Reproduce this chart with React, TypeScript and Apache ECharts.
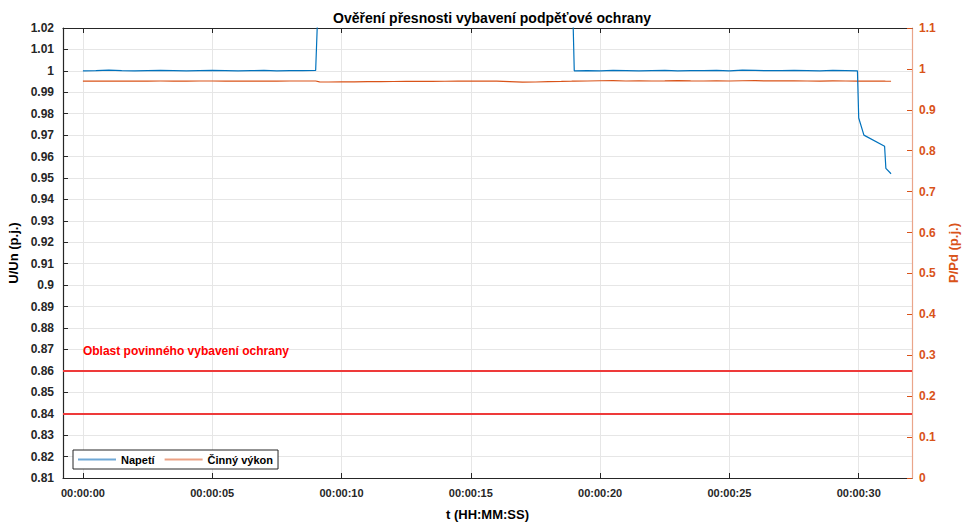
import React, { useEffect, useRef } from "react";
import * as echarts from "echarts";

const titleText = "Ověření přesnosti vybavení podpěťové ochrany";
const xTicks = [0, 5, 10, 15, 20, 25, 30];
const leftLimits = [0.81, 1.02];
const rightLimits = [0, 1.1];
const thresholds = [0.86, 0.84];
const zoneLabel = "Oblast povinného vybavení ochrany";
const zoneLabelPos = [0, 0.8695];

const times = [
  0, 0.5, 1, 1.5, 2, 2.5, 3, 3.5, 4, 4.5, 5, 5.5, 6, 6.5, 7, 7.5, 8, 8.5, 9.0,
  9.15, 9.5, 10, 10.5, 11, 11.5, 12, 12.5, 13, 13.5, 14, 14.5, 15, 15.5, 16, 16.5, 17, 17.5, 18, 18.5, 18.9,
  19.0, 19.5, 20, 20.5, 21, 21.5, 22, 22.5, 23, 23.5, 24, 24.5, 25, 25.5, 26, 26.5, 27, 27.5, 28, 28.5, 29, 29.5, 29.95,
  30.0, 30.2, 31.0, 31.05, 31.25,
];

const napeti = [
  1.0, 1.0001, 1.0003, 1.0001, 1.0, 1.0001, 1.0002, 1.0001, 1.0, 1.0001, 1.0002, 1.0001, 1.0, 1.0001, 1.0002, 1.0, 1.0001, 1.0001, 1.0002,
  1.05, 1.05, 1.05, 1.05, 1.05, 1.05, 1.05, 1.05, 1.05, 1.05, 1.05, 1.05, 1.05, 1.05, 1.05, 1.05, 1.05, 1.05, 1.05, 1.05, 1.05,
  1.0, 1.0001, 1.0, 1.0002, 1.0001, 1.0, 1.0001, 1.0002, 1.0, 1.0001, 1.0001, 1.0002, 1.0, 1.0003, 1.0002, 1.0001, 1.0001, 1.0002, 1.0001, 1.0, 1.0002, 1.0001, 1.0,
  0.978, 0.97, 0.9648, 0.9545, 0.952,
];

const cinnyVykon = [
  0.97, 0.9702, 0.9705, 0.9703, 0.9702, 0.9703, 0.9704, 0.9703, 0.9703, 0.9704, 0.9705, 0.9703, 0.9704, 0.9703, 0.9705, 0.9703, 0.9704, 0.9705, 0.9705,
  0.9685, 0.968, 0.9682, 0.9685, 0.9688, 0.969, 0.9692, 0.9693, 0.9695, 0.9697, 0.9698, 0.97, 0.9702, 0.9705, 0.9703, 0.969, 0.9675, 0.968, 0.969, 0.9695, 0.97,
  0.9703, 0.9705, 0.971, 0.9715, 0.9705, 0.9708, 0.9704, 0.9706, 0.9712, 0.9706, 0.9704, 0.9707, 0.9705, 0.971, 0.9712, 0.9708, 0.9706, 0.9709, 0.9705, 0.9703, 0.9706, 0.9704, 0.9703,
  0.97, 0.97, 0.97, 0.9698, 0.9698,
];

const FONT = "'Liberation Sans', Arial, Helvetica, sans-serif";
const BLUE = "#0072BD";
const ORANGE = "#D95319";
const AXIS = "#262626";
const GRID = "#e6e6e6";

const fmtTime = (v: number) => {
  const s = Math.round(v);
  const pad = (n: number) => (n < 10 ? "0" + n : "" + n);
  return "00:00:" + pad(s);
};

export default function App() {
  const ref = useRef<HTMLDivElement>(null);
  useEffect(() => {
    if (!ref.current) return;
    const chart = echarts.init(ref.current, undefined, { renderer: "svg" });
    const xMin = -0.77;
    const xMax = 32.06;
    chart.setOption({
      animation: false,
      backgroundColor: "#ffffff",
      textStyle: { fontFamily: FONT },
      title: {
        text: titleText,
        left: 487,
        textAlign: "center",
        top: 6,
        textStyle: { fontSize: 14, fontWeight: "bold", color: "#000", fontFamily: FONT },
      },
      legend: {
        left: 73,
        top: 450,
        orient: "horizontal",
        backgroundColor: "#fff",
        borderColor: AXIS,
        borderWidth: 1,
        borderRadius: 0,
        padding: [4, 5, 4, 5],
        itemGap: 10,
        itemWidth: 38,
        itemHeight: 2,
        icon: "rect",
        textStyle: { fontSize: 11, fontWeight: "bold", color: "#000", fontFamily: FONT },
        data: [
          { name: "Napetí", icon: "rect", itemStyle: { color: "#6fa8d6" } },
          { name: "Činný výkon", icon: "rect", itemStyle: { color: "#eba184" } },
        ],
      },
      grid: { left: 63, right: 51, top: 28, bottom: 44, containLabel: false, outerBoundsMode: "none" },
      xAxis: [
        {
          type: "value",
          min: xMin,
          max: xMax,
          position: "bottom",
          name: "t (HH:MM:SS)",
          nameLocation: "middle",
          nameGap: 30,
          nameTextStyle: { fontSize: 13, fontWeight: "bold", color: "#000", fontFamily: FONT },
          axisLine: { show: true, onZero: false, lineStyle: { color: AXIS, width: 1.2 } },
          axisTick: { show: true, inside: true, length: 5, customValues: xTicks, lineStyle: { color: AXIS } },
          axisLabel: {
            customValues: xTicks,
            formatter: (v: number) => fmtTime(v),
            fontSize: 11,
            fontWeight: "bold",
            color: "#262626",
            margin: 9,
            fontFamily: FONT,
          },
          splitLine: { show: true, lineStyle: { color: GRID, width: 1 } },
        },
        {
          type: "value",
          min: xMin,
          max: xMax,
          position: "top",
          axisLine: { show: true, onZero: false, lineStyle: { color: AXIS, width: 1.2 } },
          axisTick: { show: true, inside: true, length: 5, customValues: xTicks, lineStyle: { color: AXIS } },
          axisLabel: { show: false },
          splitLine: { show: false },
        },
      ],
      yAxis: [
        {
          type: "value",
          min: leftLimits[0],
          max: leftLimits[1],
          interval: 0.01,
          position: "left",
          name: "U/Un (p.j.)",
          nameLocation: "middle",
          nameRotate: 90,
          nameGap: 40,
          nameTextStyle: { fontSize: 13, fontWeight: "bold", color: "#000", fontFamily: FONT },
          axisLine: { show: true, onZero: false, lineStyle: { color: AXIS, width: 1.2 } },
          axisTick: { show: true, inside: true, length: 5, lineStyle: { color: AXIS } },
          axisLabel: {
            formatter: (v: number) => String(Math.round(v * 100) / 100),
            fontSize: 12,
            fontWeight: "bold",
            color: "#262626",
            margin: 9,
            fontFamily: FONT,
          },
          splitLine: { show: true, lineStyle: { color: GRID, width: 1 } },
        },
        {
          type: "value",
          min: rightLimits[0],
          max: rightLimits[1],
          interval: 0.1,
          position: "right",
          name: "P/Pd (p.j.)",
          nameLocation: "middle",
          nameRotate: 90,
          nameGap: 33,
          nameTextStyle: { fontSize: 13, fontWeight: "bold", color: ORANGE, fontFamily: FONT },
          axisLine: { show: true, onZero: false, lineStyle: { color: "#eaa58a", width: 1.2 } },
          axisTick: { show: true, inside: true, length: 5, lineStyle: { color: ORANGE } },
          axisLabel: {
            formatter: (v: number) => String(Math.round(v * 10) / 10),
            fontSize: 12,
            fontWeight: "bold",
            color: ORANGE,
            margin: 7,
            fontFamily: FONT,
          },
          splitLine: { show: false },
        },
      ],
      series: [
        {
          name: "Napetí",
          type: "line",
          xAxisIndex: 0,
          yAxisIndex: 0,
          data: times.map((t, i) => [t, napeti[i]]),
          symbol: "none",
          showSymbol: false,
          clip: true,
          lineStyle: { color: BLUE, width: 1.2 },
          itemStyle: { color: BLUE },
          z: 3,
        },
        {
          name: "Činný výkon",
          type: "line",
          xAxisIndex: 0,
          yAxisIndex: 1,
          data: times.map((t, i) => [t, cinnyVykon[i]]),
          symbol: "none",
          showSymbol: false,
          clip: true,
          lineStyle: { color: ORANGE, width: 1.2 },
          itemStyle: { color: ORANGE },
          z: 2,
        },
        {
          name: "zone",
          type: "line",
          xAxisIndex: 0,
          yAxisIndex: 0,
          data: [],
          symbol: "none",
          silent: true,
          markLine: {
            silent: true,
            symbol: "none",
            label: { show: false },
            lineStyle: { color: "#ee3a3a", width: 2, type: "solid" },
            data: thresholds.map((v) => ({ yAxis: v })),
          },
          markPoint: {
            silent: true,
            symbol: "rect",
            symbolSize: 0,
            data: [{ coord: zoneLabelPos }],
            label: {
              show: true,
              position: "right",
              distance: 0,
              formatter: zoneLabel,
              color: "#ff0000",
              fontSize: 12,
              fontWeight: "bold",
              fontFamily: FONT,
            },
          },
        },
      ],
    });
    return () => chart.dispose();
  }, []);
  return <div ref={ref} style={{ width: 963, height: 522, position: "absolute", left: 0, top: 0 }} />;
}
